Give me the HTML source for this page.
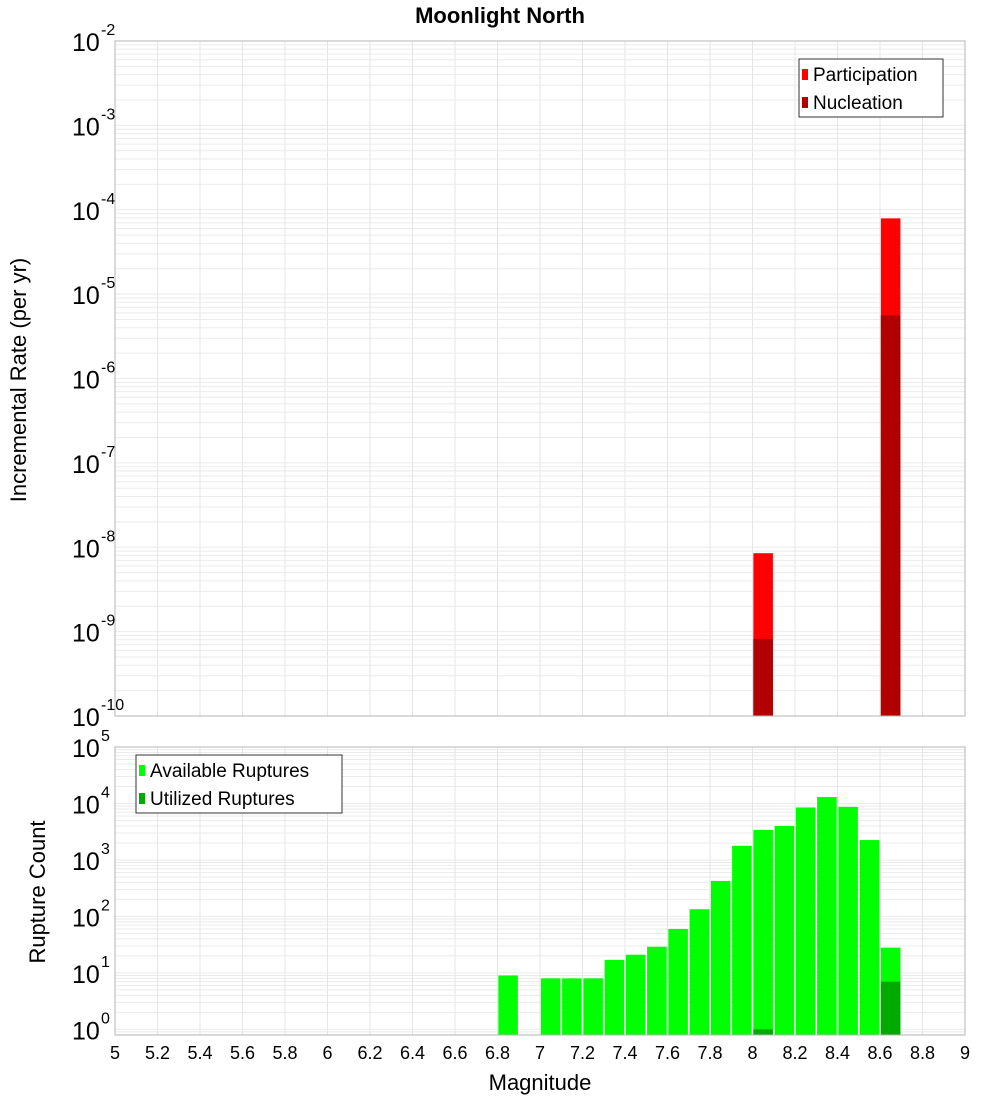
<!DOCTYPE html>
<html><head><meta charset="utf-8"><style>
body{margin:0;background:#fff}
svg{display:block;font-family:"Liberation Sans","DejaVu Sans",sans-serif}
</style></head><body>
<svg id="c" width="1000" height="1100" viewBox="0 0 1000 1100">
<text x="500" y="23" text-anchor="middle" font-size="22" font-weight="bold">Moonlight North</text>
<text transform="translate(26,380) rotate(-90)" text-anchor="middle" font-size="22">Incremental Rate (per yr)</text>
<text transform="translate(45,892) rotate(-90)" text-anchor="middle" font-size="22">Rupture Count</text>
<text x="540" y="1090" text-anchor="middle" font-size="22">Magnitude</text>
<g id="top"></g><g id="bot"></g><g id="xt"></g>
</svg>
<script>
const rateMags=[8.05,8.65];
const participation=[8.5e-9,7.9e-5];
const nucleation=[8.2e-10,5.6e-6];
const countMags=[6.85,7.05,7.15,7.25,7.35,7.45,7.55,7.65,7.75,7.85,7.95,8.05,8.15,8.25,8.35,8.45,8.55,8.65];
const available=[9,8,8,8,17,21,29,60,134,425,1780,3400,4000,8500,13000,8700,2250,28];
const utilizedMags=[8.05,8.65];
const utilized=[1,7];
const xTicks=[5,5.2,5.4,5.6,5.8,6,6.2,6.4,6.6,6.8,7,7.2,7.4,7.6,7.8,8,8.2,8.4,8.6,8.8,9];

const NS='http://www.w3.org/2000/svg';
const L=115,R=965;
const xs=m=>L+(m-5)/4*(R-L);
function mk(p,t,a){const e=document.createElementNS(NS,t);for(const k in a)e.setAttribute(k,a[k]);p.appendChild(e);return e;}
function panel(g,top,bot,lmin,lmax,name){
  const ys=v=>bot-(Math.log10(v)-lmin)/(lmax-lmin)*(bot-top);
  for(let d=Math.floor(lmin);d<lmax;d++)for(let k=1;k<10;k++){const v=k*Math.pow(10,d);const lv=Math.log10(v);if(lv<lmin||lv>lmax)continue;
    const l=mk(g,'line',{x1:L,x2:R,y1:ys(v),y2:ys(v),stroke:'#ebebeb','stroke-width':1});
    }
  xTicks.forEach(t=>{const l=mk(g,'line',{x1:xs(t),x2:xs(t),y1:top,y2:bot,stroke:'#e6e6e6','stroke-width':1});
    });
  for(let d=Math.ceil(lmin);d<=lmax;d++){const y=ys(Math.pow(10,d));
    const t=mk(g,'text',{x:72,y:y+10,'font-size':25});t.textContent='10';
    
    const s=mk(g,'text',{x:101,y:y-6,'font-size':16});s.textContent=String(d);
    }
  return ys;
}
const gt=document.getElementById('top'),gb=document.getElementById('bot');
const yt=panel(gt,41,716,-10,-2,'top');
const bw=0.092;
function bar(g,m,v,ys,bot,fill,name){const x=xs(m-bw/2),w=xs(m+bw/2)-x,y=ys(v);
  const r=mk(g,'rect',{x:x,y:y,width:w,height:bot-y,fill:fill});
  }
rateMags.forEach((m,i)=>bar(gt,m,participation[i],yt,716,'#ff0000','participation-bar'));
rateMags.forEach((m,i)=>bar(gt,m,nucleation[i],yt,716,'#b00000','nucleation-bar'));
let f=mk(gt,'rect',{x:L,y:41,width:R-L,height:675,fill:'none',stroke:'#b4b4b4'});

const yb=panel(gb,747,1035,-0.1,5,'bottom');
countMags.forEach((m,i)=>bar(gb,m,available[i],yb,1035,'#00ff00','available-bar'));
utilizedMags.forEach((m,i)=>bar(gb,m,utilized[i],yb,1035,'#00aa00','utilized-bar'));
f=mk(gb,'rect',{x:L,y:747,width:R-L,height:288,fill:'none',stroke:'#b4b4b4'});

const gx=document.getElementById('xt');
xTicks.forEach(t=>{const e=mk(gx,'text',{x:xs(t),y:1059,'text-anchor':'middle','font-size':18});e.textContent=String(t);
  });
function legend(g,x,y,w,items,name){
  const lg=mk(g,'g',{});
  mk(lg,'rect',{x:x,y:y,width:w,height:58,fill:'#fff',stroke:'#333'});
  items.forEach((it,i)=>{const cy=y+15+i*28;
    const s=mk(lg,'rect',{x:x+3,y:cy-5,width:6,height:11,fill:it[1]});
    
    const t=mk(lg,'text',{x:x+14,y:cy+7,'font-size':19});t.textContent=it[0];
    });
}
legend(gt,799,59,144,[['Participation','#ff0000'],['Nucleation','#b00000']],'top-legend');
legend(gb,136,755,206,[['Available Ruptures','#00ff00'],['Utilized Ruptures','#00aa00']],'bottom-legend');
</script>
</body></html>
